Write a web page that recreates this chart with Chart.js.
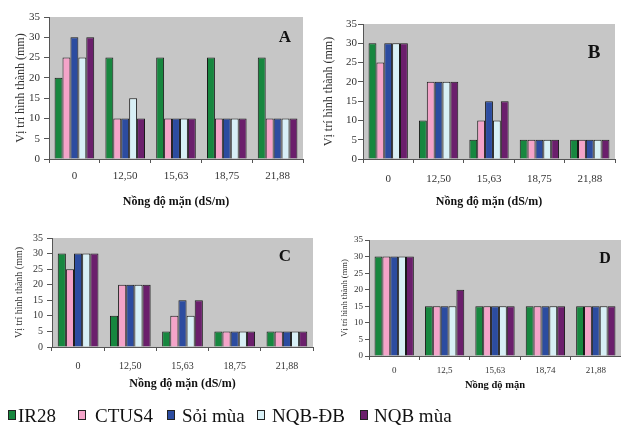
<!DOCTYPE html>
<html><head><meta charset="utf-8">
<script src="https://cdn.jsdelivr.net/npm/chart.js@4"></script>
<style>
html,body{margin:0;padding:0;background:#fff;}
#wrap{position:relative;width:621px;height:427px;overflow:hidden;background:#fff;}
#wrap canvas{position:absolute;left:0;top:0;}
.lg{position:absolute;top:406px;font-family:"Liberation Serif","Times New Roman",serif;font-size:19px;line-height:19px;color:#111;white-space:nowrap;}
.sw{position:absolute;top:410px;width:6px;height:8px;border:1px solid #222;}
</style></head><body>
<div id="wrap">
<canvas id="cA" width="621" height="427"></canvas>
<canvas id="cB" width="621" height="427"></canvas>
<canvas id="cC" width="621" height="427"></canvas>
<canvas id="cD" width="621" height="427"></canvas>
<div id="legend"></div>
</div>
<script>
// ---------- DATA ----------
const seriesNames = ['IR28', 'CTUS4', 'Sỏi mùa', 'NQB-ĐB', 'NQB mùa'];
const seriesColors = ['#17873f', '#f4a4c9', '#2c4ca0', '#d8f0f6', '#6b1f6c'];

const categoriesABC = ['0', '12,50', '15,63', '18,75', '21,88'];
const categoriesD = ['0', '12,5', '15,63', '18,74', '21,88'];
const yTicks = [0, 5, 10, 15, 20, 25, 30, 35];

// rows: IR28, CTUS4, Sỏi mùa, NQB-ĐB, NQB mùa
const valuesA = [
  [20, 25, 25, 25, 25],
  [25, 10, 10, 10, 10],
  [30, 10, 10, 10, 10],
  [25, 15, 10, 10, 10],
  [30, 10, 10, 10, 10]
];
const valuesB = [
  [30, 10, 5, 5, 5],
  [25, 20, 10, 5, 5],
  [30, 20, 15, 5, 5],
  [30, 20, 10, 5, 5],
  [30, 20, 15, 5, 5]
];
const valuesC = [
  [30, 10, 5, 5, 5],
  [25, 20, 10, 5, 5],
  [30, 20, 15, 5, 5],
  [30, 20, 10, 5, 5],
  [30, 20, 15, 5, 5]
];
const valuesD = [
  [30, 15, 15, 15, 15],
  [30, 15, 15, 15, 15],
  [30, 15, 15, 15, 15],
  [30, 15, 15, 15, 15],
  [30, 20, 15, 15, 15]
];

const yTitleText = 'Vị trí hình thành (mm)';
const xTitleABC = 'Nồng độ mặn (dS/m)';
const xTitleD = 'Nồng độ mặn';

// ---------- LAYOUT ----------
const W = 621, H = 427;
const SERIF = '"Liberation Serif", "Times New Roman", serif';

const bgPlugin = {
  id: 'plotBg',
  beforeDraw(chart) {
    const a = chart.chartArea, ctx = chart.ctx;
    ctx.save();
    ctx.fillStyle = '#c6c6c6';
    ctx.fillRect(a.left, a.top, a.right - a.left, a.bottom - a.top);
    ctx.restore();
  }
};
const letterPlugin = {
  id: 'panelLetter',
  afterDraw(chart, args, opts) {
    const ctx = chart.ctx;
    ctx.save();
    ctx.font = 'bold ' + opts.size + 'px ' + SERIF;
    ctx.fillStyle = '#111';
    ctx.textAlign = 'center';
    ctx.textBaseline = 'middle';
    ctx.fillText(opts.text, opts.x, opts.y);
    ctx.restore();
  }
};

function makePanel(id, letter, cats, vals, xTitle, P) {
  const yLh = P.yTitleFs * 1.2;
  const yw = P.plot.l - (P.yTitleCx - yLh / 2);
  const xLh = P.xTitleFs * 1.2;
  const xh = P.xTitleCy + xLh / 2 - P.plot.b;
  const datasets = seriesNames.map((name, i) => ({
    label: name,
    data: vals[i],
    backgroundColor: seriesColors[i],
    borderColor: '#1a1a1a',
    borderWidth: 1,
    categoryPercentage: 0.78,
    barPercentage: 1.0
  }));
  new Chart(document.getElementById(id), {
    type: 'bar',
    data: { labels: cats, datasets },
    plugins: [bgPlugin, letterPlugin],
    options: {
      responsive: false,
      animation: false,
      layout: { padding: { left: P.plot.l - yw, top: P.plot.t, right: W - P.plot.r, bottom: H - P.plot.b - xh } },
      plugins: {
        legend: { display: false },
        tooltip: { enabled: false },
        panelLetter: { text: letter, x: P.letter.x, y: P.letter.y, size: P.letter.fs }
      },
      scales: {
        x: {
          afterFit: s => { s.height = xh; },
          grid: { display: true, drawOnChartArea: false, drawTicks: true, tickLength: P.xTick.tl, color: '#555', offset: true },
          border: { display: true, color: '#555', width: 1 },
          ticks: { color: '#333', padding: P.xTick.pad, font: { family: SERIF, size: P.xTick.fs } },
          title: { display: true, text: xTitle, color: '#111', padding: 0, font: { family: SERIF, size: P.xTitleFs, weight: 'bold' } }
        },
        y: {
          min: 0, max: 35,
          afterFit: s => { s.width = yw; },
          afterBuildTicks: s => { s.ticks = yTicks.map(v => ({ value: v })); },
          grid: { display: true, drawOnChartArea: false, drawTicks: true, tickLength: P.yTick.tl, color: '#555' },
          border: { display: true, color: '#555', width: 1 },
          ticks: { color: '#333', padding: P.yTick.pad, font: { family: SERIF, size: P.yTick.fs } },
          title: { display: true, text: yTitleText, color: '#333', padding: 0, font: { family: SERIF, size: P.yTitleFs } }
        }
      }
    }
  });
}

makePanel('cA', 'A', categoriesABC, valuesA, xTitleABC, {
  plot: { l: 49, t: 17, r: 303, b: 159 },
  yTitleCx: 21, yTitleFs: 12,
  yTick: { tl: 5, pad: 4, fs: 11 },
  xTick: { tl: 4, pad: 7, fs: 11 },
  xTitleCy: 202, xTitleFs: 12,
  letter: { x: 285, y: 38, fs: 17 }
});
makePanel('cB', 'B', categoriesABC, valuesB, xTitleABC, {
  plot: { l: 363, t: 24, r: 615, b: 159 },
  yTitleCx: 329, yTitleFs: 12,
  yTick: { tl: 5, pad: 1, fs: 11 },
  xTick: { tl: 4, pad: 10, fs: 11 },
  xTitleCy: 202, xTitleFs: 12,
  letter: { x: 594, y: 53, fs: 19 }
});
makePanel('cC', 'C', categoriesABC, valuesC, xTitleABC, {
  plot: { l: 52, t: 238, r: 313, b: 347 },
  yTitleCx: 19, yTitleFs: 10,
  yTick: { tl: 5, pad: 4, fs: 10 },
  xTick: { tl: 4, pad: 9, fs: 10 },
  xTitleCy: 384, xTitleFs: 12,
  letter: { x: 285, y: 257, fs: 17 }
});
makePanel('cD', 'D', categoriesD, valuesD, xTitleD, {
  plot: { l: 369, t: 240, r: 621, b: 356 },
  yTitleCx: 345, yTitleFs: 8.5,
  yTick: { tl: 4, pad: 2, fs: 9 },
  xTick: { tl: 4, pad: 5, fs: 9 },
  xTitleCy: 385, xTitleFs: 10.5,
  letter: { x: 605, y: 259, fs: 16 }
});

// ---------- LEGEND (HTML) ----------
const legendSwatchX = [8, 78, 167, 257, 360];
const legendTextX = [18, 95, 182, 272, 374];
const lg = document.getElementById('legend');
seriesNames.forEach((name, i) => {
  const sw = document.createElement('div');
  sw.className = 'sw';
  sw.style.left = legendSwatchX[i] + 'px';
  sw.style.background = seriesColors[i];
  lg.appendChild(sw);
  const t = document.createElement('div');
  t.className = 'lg';
  t.style.left = legendTextX[i] + 'px';
  t.textContent = name;
  lg.appendChild(t);
});
</script>
</body></html>
